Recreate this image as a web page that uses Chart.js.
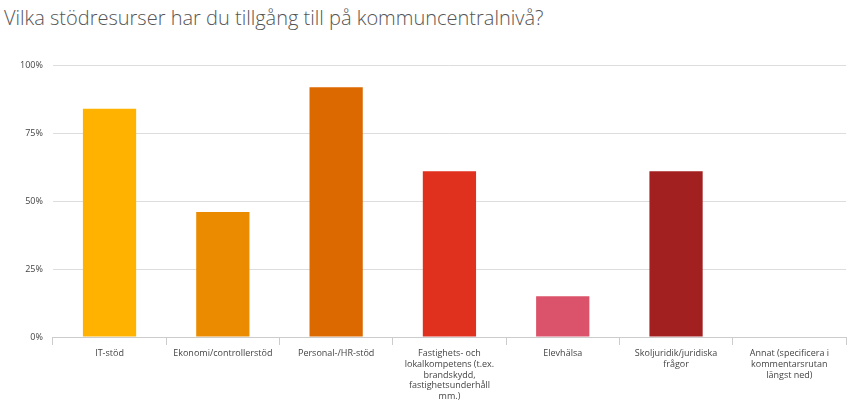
<!DOCTYPE html>
<html>
<head>
<meta charset="utf-8">
<script src="https://cdn.jsdelivr.net/npm/chart.js@4"></script>
<style>
  body { margin: 0; background: #fff; font-family: "Open Sans", sans-serif; }
  h1 { margin: 0; padding: 4px 0 0 4px; font-weight: 300; font-size: 20px; color: #555; }
  #wrap { position: absolute; left: 0; top: 50px; width: 864px; height: 355px; }
</style>
</head>
<body>
<h1>Vilka stödresurser har du tillgång till på kommuncentralnivå?</h1>
<div id="wrap"><canvas id="chartCanvas"></canvas></div>
<script>
const categories = [
    ['IT-stöd'],
    ['Ekonomi/controllerstöd'],
    ['Personal-/HR-stöd'],
    ['Fastighets- och', 'lokalkompetens (t.ex.', 'brandskydd,', 'fastighetsunderhåll', 'mm.)'],
    ['Elevhälsa'],
    ['Skoljuridik/juridiska', 'frågor'],
    ['Annat (specificera i', 'kommentarsrutan', 'längst ned)']
];
const values = [84, 46, 92, 61, 15, 61, 0];
const colors = ['#FFB300', '#EB8C00', '#DC6900', '#E0301E', '#DB536A', '#A32020', '#602320'];

new Chart(document.getElementById('chartCanvas'), {
    type: 'bar',
    data: {
        labels: categories,
        datasets: [{ data: values, backgroundColor: colors, barPercentage: 0.47, categoryPercentage: 1 }]
    },
    options: {
        responsive: true,
        maintainAspectRatio: false,
        animation: false,
        layout: { padding: { left: 10, right: 18, top: 8 } },
        plugins: { legend: { display: false }, tooltip: { enabled: false } },
        scales: {
            x: {
                grid: { display: true, drawOnChartArea: false, offset: true, color: '#ccc', tickLength: 8 },
                border: { color: '#ccc' },
                ticks: { color: '#444', font: { family: 'Open Sans', size: 9 }, maxRotation: 0, autoSkip: false }
            },
            y: {
                min: 0, max: 100,
                grid: { color: '#ddd', drawTicks: false },
                border: { display: false },
                ticks: { stepSize: 25, padding: 10, color: '#444', font: { family: 'Open Sans', size: 9 }, callback: v => v + '%' }
            }
        }
    }
});
</script>
</body>
</html>
